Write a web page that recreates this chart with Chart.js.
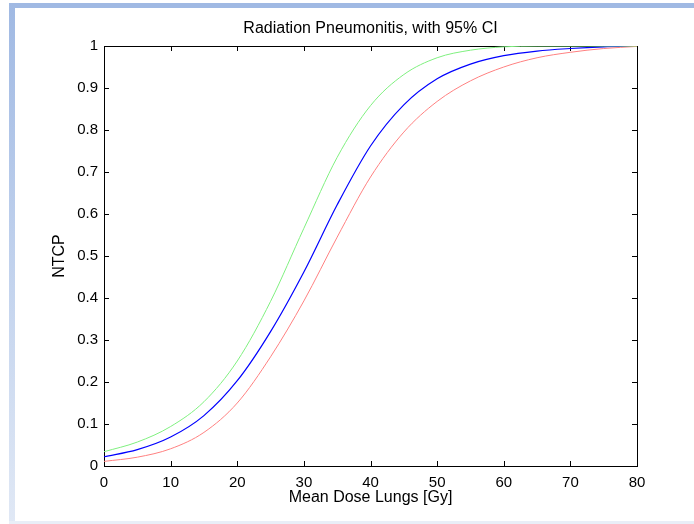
<!DOCTYPE html>
<html>
<head>
<meta charset="utf-8">
<script src="https://cdn.jsdelivr.net/npm/chart.js@4"></script>
<style>
  html, body { margin: 0; padding: 0; background: #fff; }
  #wrap { position: relative; width: 694px; height: 524px; overflow: hidden; }
  .frame-top  { position: absolute; left: 9px; top: 3px; width: 685px; height: 5px; background: #a0b9e3; }
  .frame-left { position: absolute; left: 9px; top: 3px; width: 6px; height: 519px;
                background: linear-gradient(to bottom, #a0b9e3 0%, #c4d4ee 55%, #e0e8f5 100%); }
  .frame-bot  { position: absolute; left: 9px; top: 521px; width: 685px; height: 3px; background: #e9eef7; }
  canvas { position: absolute; left: 0; top: 0; }
</style>
</head>
<body>
<div id="wrap">
  <div class="frame-top"></div>
  <div class="frame-left"></div>
  <div class="frame-bot"></div>
  <canvas id="ntcp" width="694" height="524"></canvas>
</div>
<script>
/* ── data ── */
var doses   = [0, 5, 10, 15, 20, 25, 30, 35, 40, 45, 50, 55, 60, 65, 70, 75, 80];
var ntcpMid = [0.022, 0.039, 0.069, 0.120, 0.203, 0.320, 0.462, 0.622, 0.762, 0.860, 0.922, 0.957, 0.977, 0.988, 0.994, 0.998, 1.000];
var ntcpUp  = [0.034, 0.057, 0.094, 0.153, 0.250, 0.392, 0.566, 0.735, 0.858, 0.932, 0.972, 0.990, 0.998, 1.000, 1.000, 1.000, 1.000];
var ntcpLow = [0.011, 0.021, 0.041, 0.080, 0.150, 0.260, 0.393, 0.545, 0.688, 0.795, 0.868, 0.917, 0.950, 0.972, 0.985, 0.994, 0.999];
var xTicks  = [0, 10, 20, 30, 40, 50, 60, 70, 80];
var yTicks  = [0, 0.1, 0.2, 0.3, 0.4, 0.5, 0.6, 0.7, 0.8, 0.9, 1];
var yTickLabels = ['0', '0.1', '0.2', '0.3', '0.4', '0.5', '0.6', '0.7', '0.8', '0.9', '1'];

var FONT = 'Arial, "Liberation Sans", Helvetica, sans-serif';

function pts(ys) {
  return doses.map(function(d, i) { return { x: d, y: ys[i] }; });
}

// matlab-style box with inward ticks on all four sides
var boxTicks = {
  id: 'boxTicks',
  beforeDatasetsDraw: function(chart) {
    var a = chart.chartArea, ctx = chart.ctx;
    var xs = chart.scales.x, ys = chart.scales.y;
    var L = 5;
    ctx.save();
    ctx.strokeStyle = '#000';
    ctx.lineWidth = 1;
    ctx.beginPath();
    xTicks.forEach(function(v) {
      var p = Math.round(xs.getPixelForValue(v)) + 0.5;
      ctx.moveTo(p, a.bottom); ctx.lineTo(p, a.bottom - L);
      ctx.moveTo(p, a.top);    ctx.lineTo(p, a.top + L);
    });
    yTicks.forEach(function(v) {
      var p = Math.round(ys.getPixelForValue(v)) + 0.5;
      ctx.moveTo(a.left, p);  ctx.lineTo(a.left + L, p);
      ctx.moveTo(a.right, p); ctx.lineTo(a.right - L, p);
    });
    ctx.stroke();
    ctx.strokeRect(Math.round(a.left) + 0.5, Math.round(a.top) + 0.5,
                   Math.round(a.right - a.left), Math.round(a.bottom - a.top));
    ctx.restore();
  }
};

new Chart(document.getElementById('ntcp').getContext('2d'), {
  type: 'line',
  data: {
    datasets: [
      { label: 'upper', data: pts(ntcpUp),  borderColor: '#7ff07f', borderWidth: 1 },
      { label: 'lower', data: pts(ntcpLow), borderColor: '#ff8080', borderWidth: 1 },
      { label: 'NTCP',  data: pts(ntcpMid), borderColor: '#0000ff', borderWidth: 1.2 }
    ]
  },
  options: {
    responsive: false, animation: false,
    layout: { padding: { left: 0, right: 57, top: 0, bottom: 0 } },
    elements: {
      point: { radius: 0 },
      line: { cubicInterpolationMode: 'monotone', fill: false }
    },
    plugins: {
      legend: { display: false },
      tooltip: { enabled: false },
      title: { display: false }
    },
    scales: {
      x: {
        type: 'linear', min: 0, max: 80,
        afterFit: function(s) { s.height = 58; },
        afterBuildTicks: function(s) { s.ticks = xTicks.map(function(v) { return { value: v }; }); },
        grid: { display: false, drawTicks: false },
        border: { display: false },
        ticks: { color: '#000', font: { family: FONT, size: 15 }, padding: 8, maxRotation: 0 },
        title: { display: true, text: 'Mean Dose Lungs [Gy]', color: '#000',
                 font: { family: FONT, size: 16 }, padding: { top: 0, bottom: 17 } }
      },
      // top axis only carries the plot title, centred over the axes like matlab does
      xTop: {
        type: 'linear', position: 'top', min: 0, max: 80,
        afterFit: function(s) { s.height = 46; },
        grid: { display: false, drawTicks: false },
        border: { display: false },
        ticks: { display: false },
        title: { display: true, text: 'Radiation Pneumonitis, with 95% CI', color: '#000',
                 font: { family: FONT, size: 16 }, padding: { top: 19, bottom: 0 } }
      },
      y: {
        type: 'linear', min: 0, max: 1,
        afterFit: function(s) { s.width = 104; },
        afterBuildTicks: function(s) { s.ticks = yTicks.map(function(v) { return { value: v }; }); },
        grid: { display: false, drawTicks: false },
        border: { display: false },
        ticks: { color: '#000', font: { family: FONT, size: 15 }, padding: 6,
                 callback: function(v, i) { return yTickLabels[i]; } },
        title: { display: true, text: 'NTCP', color: '#000',
                 font: { family: FONT, size: 16 }, padding: { top: 50, bottom: 0 } }
      }
    }
  },
  plugins: [boxTicks]
});
</script>
</body>
</html>
